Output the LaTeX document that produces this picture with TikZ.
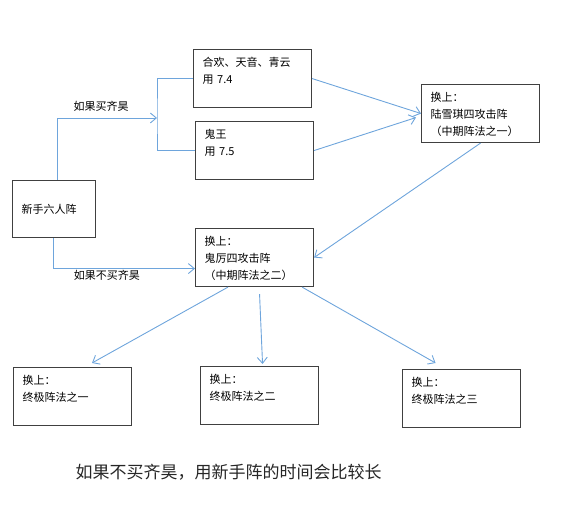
\documentclass[tikz,border=0pt]{standalone}
\usepackage{fontspec}
\setmainfont{Noto Sans CJK SC}
\usetikzlibrary{arrows.meta}
\definecolor{linkblue}{RGB}{110,165,220}

\begin{document}
\begin{tikzpicture}[x=1pt,y=-1pt,
    box/.style={draw=black!75, line width=1.1pt, anchor=north west, align=left,
      text width=100pt, inner xsep=9pt, inner ysep=7pt, text height=10pt, text depth=34pt,
      font=\fontsize{11}{17}\selectfont},
    link/.style={draw=linkblue, line width=0.9pt},
    arr/.style={-{Straight Barb[length=6pt,width=10pt]}},
    lab/.style={font=\fontsize{11}{13}\selectfont}]
      \useasboundingbox (0,0) rectangle (580,510);
      \node[box, text width=65pt, text height=, text depth=, minimum height=57pt] (start) at (12,180) {新手六人阵};
      \node[box] (hehuan) at (193,49) {合欢、天音、青云\\用 7.4};
      \node[box] (guiwang) at (195,121) {鬼王\\用 7.5};
      \node[box] (luxq) at (421,84) {换上：\\陆雪琪四攻击阵\\（中期阵法之一）};
      \node[box] (guili) at (195,228) {换上：\\鬼厉四攻击阵\\（中期阵法之二）};
      \node[box] (final1) at (13,367) {换上：\\终极阵法之一};
      \node[box] (final2) at (200,366) {换上：\\终极阵法之二};
      \node[box] (final3) at (402,369) {换上：\\终极阵法之三};
      \coordinate (fork) at (157,118);
      \draw[link,arr] ([xshift=45pt]start.north west) |- node[lab,above=3pt,pos=0.72] {如果买齐昊} (fork);
      \draw[link] (hehuan.west) -| (fork) |- (guiwang.west);
      \draw[link,arr] ([xshift=41pt]start.south west) |- node[lab,below=-2pt,pos=0.69] {如果不买齐昊} ([yshift=-11pt]guili.west);
      \draw[link,arr] (hehuan.east) -- (luxq.west);
      \draw[link,arr] (guiwang.east) -- ([xshift=-5pt,yshift=-4pt]luxq.west);
      \draw[link,arr] (luxq.south) -- (guili.east);
      \draw[link,arr] ([xshift=33pt]guili.south west) -- ([xshift=79pt,yshift=4pt]final1.north west);
      \draw[link,arr] ([xshift=5pt,yshift=-7pt]guili.south) -- ([xshift=3pt,yshift=2pt]final2.north);
      \draw[link,arr] ([xshift=-12pt]guili.south east) -- ([xshift=-26pt,yshift=6pt]final3.north);
      \node[font=\fontsize{17}{20}\selectfont, text=black!85] (note) at (228.5,472) {如果不买齐昊，用新手阵的时间会比较长};
    \end{tikzpicture}
\end{document}
